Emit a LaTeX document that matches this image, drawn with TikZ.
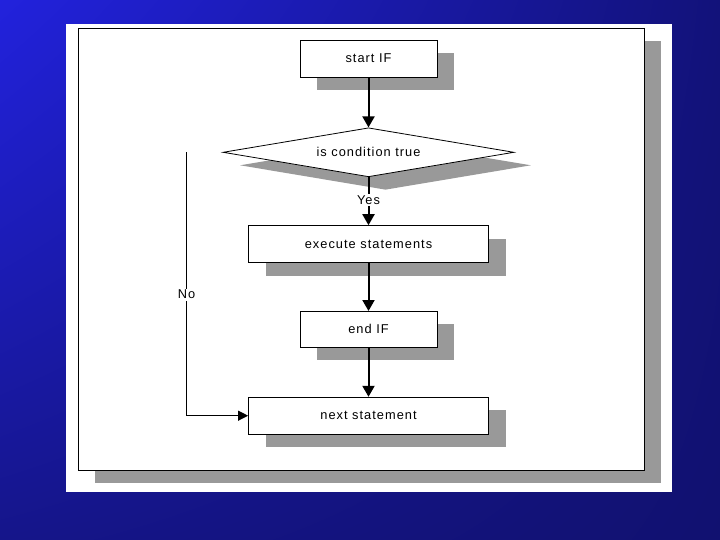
\documentclass[tikz,border=0pt]{standalone}
\usepackage{fontspec}
\setmainfont{Liberation Sans}
\newfontfamily\slidefont[LetterSpace=8]{Liberation Sans}
\usepackage{tikz}
\usetikzlibrary{shapes.geometric, arrows.meta, positioning, shadows, shadings}
\definecolor{cSlideA}{RGB}{34,34,221}
\definecolor{cSlideB}{RGB}{18,18,122}
\definecolor{cSlideC}{RGB}{21,21,138}
\definecolor{cSlideD}{RGB}{17,17,112}
\definecolor{cShadow}{RGB}{153,153,153}
\tikzset{
	boxshadow/.style={drop shadow={shadow xshift=17pt, shadow yshift=-13pt, fill=cShadow, opacity=1}},
	stepbox/.style  ={rectangle, draw=black, line width=0.8pt, fill=white, minimum height=37pt, align=center, boxshadow},
	decision/.style ={diamond, aspect=6, draw=black, line width=0.8pt, fill=white, minimum width=291pt, minimum height=49pt, inner sep=0pt, boxshadow},
	flowarrow/.style={-{Triangle[length=11pt, width=12pt]}, line width=2pt},
	% thin connector for the No branch
	noarrow/.style  ={-{Triangle[length=10pt, width=10pt]}, line width=1.1pt},
	lbl/.style      ={fill=white, inner sep=1.5pt},
}
\begin{document}
\begin{tikzpicture}[font=\slidefont\fontsize{12.8}{14}\selectfont]
	\useasboundingbox (0,0) rectangle (720pt,-540pt);
	% slide background
	\shade[upper left=cSlideA, upper right=cSlideB, lower left=cSlideC, lower right=cSlideD] (0,0) rectangle (720pt,-540pt);
	\fill[white] (66pt,-24pt) rectangle (672pt,-492pt);
	\node[draw=black, line width=0.8pt, fill=white, minimum width=566pt, minimum height=442pt, inner sep=0pt, boxshadow] (frame) at (361pt,-249pt) {};
	% flow chart
	\node[stepbox, minimum width=137pt] (start) at (368.5pt,-58.5pt) {start IF};
	\node[decision, below=50pt of start] (cond) {is condition true};
	\node[stepbox, minimum width=240pt, below=48pt of cond] (exec) {execute statements};
	\node[stepbox, minimum width=137pt, minimum height=36pt, below=48pt of exec] (endif) {end IF};
	\node[stepbox, minimum width=240pt, below=49pt of endif] (next) {next statement};
	\coordinate[left=36pt of cond.west] (nostart);
	\draw[flowarrow] (start) -- (cond);
	\draw[flowarrow] (cond) -- node[lbl, pos=0.48] {Yes} (exec);
	\draw[flowarrow] (exec) -- (endif);
	\draw[flowarrow] (endif) -- (next);
	\draw[noarrow] (nostart) |- node[lbl, pos=0.27] {No} (next);
\end{tikzpicture}
\end{document}
